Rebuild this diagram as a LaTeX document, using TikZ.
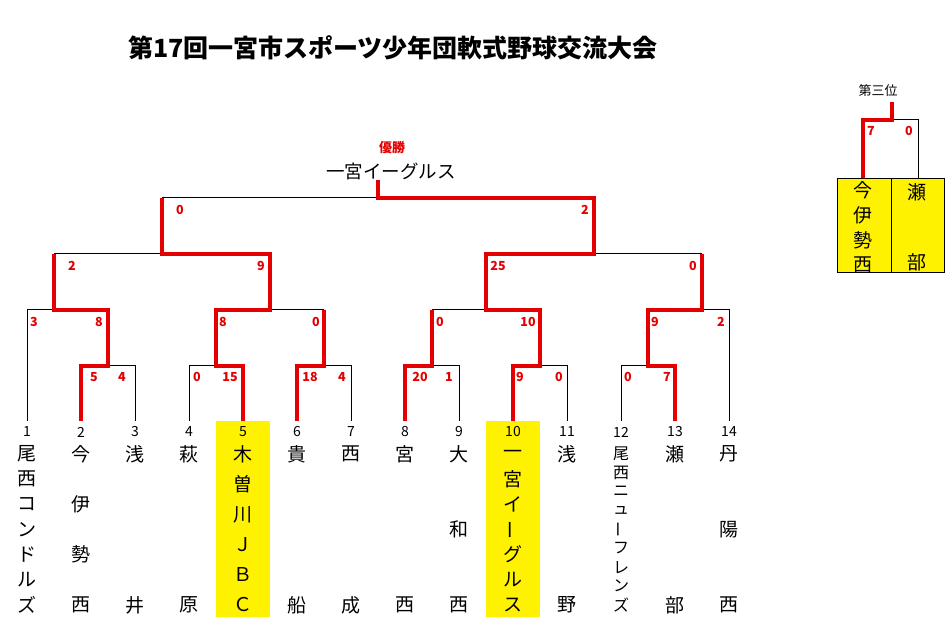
\documentclass[tikz,border=0pt]{standalone}
\usepackage{fontspec}
\setmainfont{Noto Sans CJK JP}
\usepackage{graphicx}
\definecolor{bred}{RGB}{228,0,0}
\newcommand\vbar{\rotatebox[origin=c]{90}{ー}}
\newcommand\tcol[4]{%
  \foreach \c [count=\k from 0] in {#4}{
    \node[#3] (n#1-\k) at ({27+54*(#1-1)},{454+151*\k/(#2-1)}) {\c};
  }}
\begin{document}
\begin{tikzpicture}[x=1pt,y=-1pt,
  bl/.style={draw=black,line width=1pt},
  rd/.style={draw=bred,line width=3.2pt,line join=miter},
  sc/.style={text=bred,font=\bfseries\fontsize{12.5}{12.5}\selectfont,inner sep=0pt},
  nm/.style={font=\fontsize{19}{19}\selectfont,inner sep=0pt},
  nms/.style={font=\fontsize{16}{16}\selectfont,inner sep=0pt},
  num/.style={font=\fontsize{14}{14}\selectfont,inner sep=0pt}]
\useasboundingbox (0,0) rectangle (946,617);
\fill[white] (0,0) rectangle (946,617);
% title
\node[font=\bfseries\fontsize{25}{25}\selectfont,inner sep=0pt] (title) at (393,48) {第17回一宮市スポーツ少年団軟式野球交流大会};
% champion
\node[text=bred,font=\bfseries\fontsize{13}{13}\selectfont,inner sep=0pt] (yusho) at (392,148) {優勝};
\node[font=\fontsize{18.5}{18.5}\selectfont,inner sep=0pt] (champ) at (391,171) {一宮イーグルス};
% highlight
\fill[yellow] (216,421) rectangle (270,617);
\fill[yellow] (486,421) rectangle (540,617);
% coordinates
\foreach \i in {1,...,14}{
  \coordinate (T\i) at ({27+54*(\i-1)},421);
  \coordinate (K\i) at ({27+54*(\i-1)},366);
}
\coordinate (A23) at (108,310);
\coordinate (A45) at (216,310);
\coordinate (A67) at (324,310);
\coordinate (A89) at (432,310);
\coordinate (A1011) at (540,310);
\coordinate (A1213) at (648,310);
\coordinate (B1) at (54,254);
\coordinate (B2) at (270,254);
\coordinate (B3) at (486,254);
\coordinate (B4) at (702,254);
\coordinate (C1) at (162,198);
\coordinate (C2) at (594,198);
\coordinate (W) at (378,180);
% black bracket
\foreach \a/\b in {2/3,4/5,6/7,8/9,10/11,12/13}{
  \draw[bl] (T\a) -- (K\a) -- (K\b) -- (T\b);
}
\foreach \j/\k in {A23/K2,A45/K4,A67/K6,A89/K8,A1011/K10,A1213/K12}{
  \draw[bl] (\j) -- (\j|-\k);
}
\draw[bl] (T1) -- (T1|-A23) -- (A23);
\draw[bl] (A45) -- (A67);
\draw[bl] (A89) -- (A1011);
\draw[bl] (A1213) -- (T14|-A1213) -- (T14);
\foreach \j in {B1,B2,B3,B4}{ \draw[bl] (\j) -- (\j|-A23); }
\draw[bl] (B1) -- (B2);
\draw[bl] (B3) -- (B4);
\draw[bl] (C1) -- (C1|-B1);
\draw[bl] (C2) -- (C2|-B3);
\draw[bl] (C1) -- (C2);
\draw[bl] (W) -- (W|-C1);
% red winner paths
\draw[rd] (T2) -- (K2) -- (A23|-K2) -- (A23) -- (B1|-A23) -- (B1);
\draw[rd] (T5) -- (K5) -- (A45|-K5) -- (A45) -- (B2|-A45) -- (B2) -- (C1|-B2) -- (C1);
\draw[rd] (T6) -- (K6) -- (A67|-K6) -- (A67);
\draw[rd] (T8) -- (K8) -- (A89|-K8) -- (A89);
\draw[rd] (T10) -- (K10) -- (A1011|-K10) -- (A1011) -- (B3|-A1011) -- (B3) -- (C2|-B3) -- (C2) -- (W|-C2) -- (W);
\draw[rd] (T13) -- (K13) -- (A1213|-K13) -- (A1213) -- (B4|-A1213) -- (B4);
% scores
\node[sc] (s41) at (180,210) {0};
\node[sc] (s42) at (585,210) {2};
\node[sc] (s31) at (72,266) {2};
\node[sc] (s32) at (261,266) {9};
\node[sc] (s33) at (498,266) {25};
\node[sc] (s34) at (693,266) {0};
\node[sc] (s21) at (34,322) {3};
\node[sc] (s22) at (99,322) {8};
\node[sc] (s23) at (223,322) {8};
\node[sc] (s24) at (316,322) {0};
\node[sc] (s25) at (440,322) {0};
\node[sc] (s26) at (528,322) {10};
\node[sc] (s27) at (655,322) {9};
\node[sc] (s28) at (721,322) {2};
\node[sc] (s11) at (94,377) {5};
\node[sc] (s12) at (122,377) {4};
\node[sc] (s13) at (197,377) {0};
\node[sc] (s14) at (230,377) {15};
\node[sc] (s15) at (310,377) {18};
\node[sc] (s16) at (342,377) {4};
\node[sc] (s17) at (420,377) {20};
\node[sc] (s18) at (449,377) {1};
\node[sc] (s19) at (520,377) {9};
\node[sc] (s110) at (559,377) {0};
\node[sc] (s111) at (628,377) {0};
\node[sc] (s112) at (667,377) {7};
% team numbers
\foreach \i in {1,...,14}{ \node[num] (num\i) at ({27+54*(\i-1)},432) {\i}; }
% team names
\tcol{1}{7}{nm}{尾,西,コ,ン,ド,ル,ズ}
\tcol{2}{4}{nm}{今,伊,勢,西}
\tcol{3}{2}{nm}{浅,井}
\tcol{4}{2}{nm}{萩,原}
\tcol{5}{6}{nm}{木,曽,川,Ｊ,Ｂ,Ｃ}
\tcol{6}{2}{nm}{貴,船}
\tcol{7}{2}{nm}{西,成}
\tcol{8}{2}{nm}{宮,西}
\tcol{9}{3}{nm}{大,和,西}
\tcol{10}{7}{nm}{一,宮,イ,\vbar,グ,ル,ス}
\tcol{11}{2}{nm}{浅,野}
\tcol{12}{9}{nms}{尾,西,ニ,ュ,\vbar,フ,レ,ン,ズ}
\tcol{13}{2}{nm}{瀬,部}
\tcol{14}{3}{nm}{丹,陽,西}
% third place
\node[font=\fontsize{13}{13}\selectfont,inner sep=0pt] (third) at (878,91) {第三位};
\node[draw=black,line width=1pt,fill=yellow,minimum width=107pt,minimum height=94pt,inner sep=0pt,anchor=north west] (tbox) at (837,178) {};
\draw[bl] (tbox.north) -- (tbox.south);
\coordinate (P) at (892,102);
\coordinate (P1) at (892,120);
\coordinate (Q1) at (863,120);
\coordinate (Q2) at (918,120);
\draw[bl] (P1) -- (Q2) -- (Q2|-tbox.north);
\draw[rd] (P) -- (P1) -- (Q1) -- (Q1|-tbox.north);
\node[sc] (t1) at (871,131) {7};
\node[sc] (t2) at (909,131) {0};
\foreach \c [count=\k from 0] in {今,伊,勢,西}{
  \node[nm] (tl\k) at (863,{190+25*\k}) {\c};
}
\node[nm] (tr0) at (917,192) {瀬};
\node[nm] (tr1) at (917,262) {部};
\end{tikzpicture}
\end{document}
